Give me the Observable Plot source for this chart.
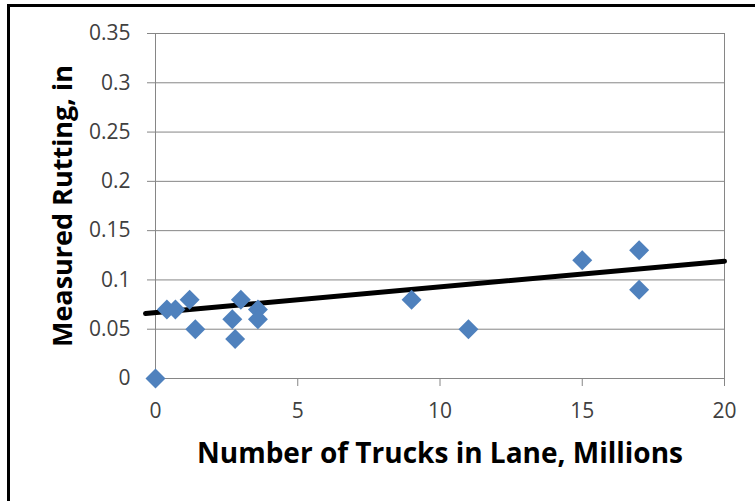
<!DOCTYPE html>
<html>
<head>
<meta charset="utf-8">
<script src="https://cdn.jsdelivr.net/npm/d3@7"></script>
<script src="https://cdn.jsdelivr.net/npm/@observablehq/plot@0.6"></script>
<style>
  html, body { margin: 0; padding: 0; background: #fff; overflow: hidden; }
  #wrap { position: relative; width: 755px; height: 501px; overflow: hidden; }
  #border { position: absolute; left: 7px; top: 4px; width: 800px; height: 600px; border: 3px solid #000; box-sizing: border-box; }
  #chart { position: absolute; left: 0; top: 0; }
</style>
</head>
<body>
<div id="wrap"><div id="chart"></div><div id="border"></div></div>
<script>
// Data
const trucks  = [0, 0.4, 0.7, 1.2, 1.4, 2.7, 2.8, 3.0, 3.6, 3.6, 9, 11, 15, 17, 17];
const rutting = [0, 0.07, 0.07, 0.08, 0.05, 0.06, 0.04, 0.08, 0.07, 0.06, 0.08, 0.05, 0.12, 0.13, 0.09];
const trendX = [-0.35, 20];
const trendY = [0.066, 0.119];
const xTicks = [0, 5, 10, 15, 20];
const yTicks = [0, 0.05, 0.1, 0.15, 0.2, 0.25, 0.3, 0.35];
const yTickLabels = ["0", "0.05", "0.1", "0.15", "0.2", "0.25", "0.3", "0.35"];
const xTitle = "Number of Trucks in Lane, Millions";
const yTitle = "Measured Rutting, in";

const points = trucks.map((x, i) => ({x, y: rutting[i]}));
const trend = trendX.map((x, i) => ({x, y: trendY[i]}));
const grey = "#868686";

const chart = Plot.plot({
  width: 755,
  height: 501,
  marginLeft: 155,
  marginRight: 31,
  marginTop: 33,
  marginBottom: 123,
  style: { fontFamily: "'Open Sans', sans-serif", fontSize: "21px", background: "transparent" },
  x: { domain: [0, 20] },
  y: { domain: [0, 0.35] },
  marks: [
    Plot.gridY(yTicks, { stroke: grey, strokeOpacity: 1 }),
    Plot.frame({ stroke: grey }),
    Plot.axisY({ ticks: yTicks, tickSize: 8, tickPadding: 17, stroke: grey, fill: "#404040", fontSize: 21,
      tickFormat: d => yTickLabels[yTicks.indexOf(d)] ?? String(d), label: null }),
    Plot.axisX({ ticks: xTicks, tickSize: 8, tickPadding: 17, stroke: grey, fill: "#404040", fontSize: 21, label: null }),
    Plot.line(trend, { x: "x", y: "y", stroke: "#000", strokeWidth: 5 }),
    Plot.dot(points, { x: "x", y: "y", symbol: "diamond2", r: 9, fill: "#4F81BD", stroke: "none" }),
    Plot.text([xTitle], { frameAnchor: "bottom", textAnchor: "middle", dy: 84, text: d => d, fontSize: 28, fontWeight: "bold", fill: "#000" }),
    Plot.text([yTitle], { frameAnchor: "left", textAnchor: "middle", dx: -92, rotate: -90, text: d => d, fontSize: 27, fontWeight: "bold", fill: "#000" })
  ]
});
document.getElementById("chart").appendChild(chart);
</script>
</body>
</html>
